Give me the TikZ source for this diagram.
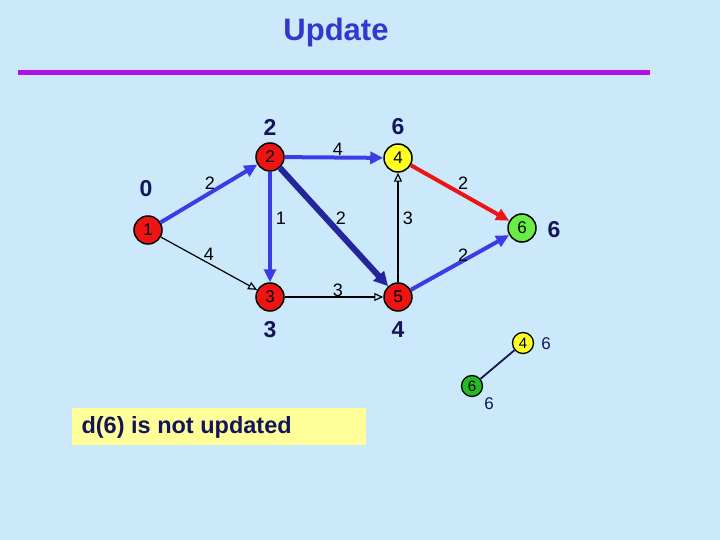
\documentclass[tikz,border=0pt]{standalone}
\usepackage{fontspec}
\setmainfont{Liberation Sans}
\usetikzlibrary{arrows.meta}
\definecolor{bg}{HTML}{CCE9FB}
\definecolor{titleblue}{HTML}{3535D0}
\definecolor{rulepurple}{HTML}{B010E8}
\definecolor{navy}{HTML}{14145A}
\definecolor{eblue}{HTML}{3C3CE6}
\definecolor{edark}{HTML}{24249C}
\definecolor{nred}{HTML}{EE1414}
\definecolor{nyellow}{HTML}{FFFF22}
\definecolor{ngreen}{HTML}{66EE44}
\definecolor{sgreen}{HTML}{22BB22}
\definecolor{boxyellow}{HTML}{FFFF99}
\begin{document}
\begin{tikzpicture}[x=1pt,y=-1pt,
  vert/.style={circle,draw=black,line width=1.5pt,minimum size=28pt,inner sep=0pt,font=\fontsize{17}{17}\selectfont},
  svert/.style={circle,draw=black,line width=1.3pt,minimum size=21pt,inner sep=0pt,font=\fontsize{15}{15}\selectfont},
  dist/.style={text=navy,font=\fontsize{23}{23}\selectfont\bfseries},
  sdist/.style={text=navy,font=\fontsize{17}{17}\selectfont},
  wt/.style={text=black,font=\fontsize{18}{18}\selectfont},
  bluee/.style={draw=eblue,line width=4pt,-{Triangle[length=13pt,width=12pt]}},
  darke/.style={draw=edark,line width=6pt,-{Triangle[length=14pt,width=14pt]}},
  rede/.style={draw=nred,line width=4pt,-{Triangle[length=13pt,width=12pt]}},
  thine/.style={draw=black,line width=1.2pt,-{Triangle[open,length=9pt,width=8pt]}}]
\fill[bg] (0,0) rectangle (720,540);
\useasboundingbox (0,0) rectangle (720,540);
\node[text=titleblue,font=\fontsize{31}{31}\selectfont\bfseries] (title) at (336,32) {Update};
\fill[rulepurple] (18,70) rectangle (650,75);

\node[vert,fill=nred] (n1) at (148,230) {1};
\node[vert,fill=nred] (n2) at (270,157) {2};
\node[vert,fill=nyellow] (n4) at (398,158) {4};
\node[vert,fill=ngreen] (n6) at (522,228) {6};
\node[vert,fill=nred] (n3) at (270,297) {3};
\node[vert,fill=nred] (n5) at (398,297) {5};

\draw[thine] (n1) -- (n3);
\draw[thine] (n3) -- (n5);
\draw[thine] (n5) -- (n4);
\draw[bluee] (n1) -- (n2);
\draw[bluee] (n2) -- (n4);
\draw[bluee] (n2) -- (n3);
\draw[darke] (n2) -- (n5);
\draw[rede] (n4) -- (n6);
\draw[bluee] (n5) -- (n6);

\node[dist] (d1) at (146,189) {0};
\node[dist] (d2) at (270,127) {2};
\node[dist] (d4) at (398,127) {6};
\node[dist] (d6) at (554,230) {6};
\node[dist] (d3) at (270,330) {3};
\node[dist] (d5) at (398,330) {4};

\node[wt] (w12) at (210,183) {2};
\node[wt] (w24) at (338,149) {4};
\node[wt] (w23) at (281,218) {1};
\node[wt] (w25) at (341,218) {2};
\node[wt] (w54) at (408,218) {3};
\node[wt] (w46) at (463,183) {2};
\node[wt] (w13) at (209,254) {4};
\node[wt] (w56) at (463,255) {2};
\node[wt] (w35) at (338,290) {3};

\node[svert,fill=nyellow] (s4) at (523,343) {4};
\node[svert,fill=sgreen] (s6) at (472,386) {6};
\draw[navy,line width=1.8pt] (s4) -- (s6);
\node[sdist] (ds4) at (546,344) {6};
\node[sdist] (ds6) at (489,404) {6};

\node[fill=boxyellow,minimum width=294pt,minimum height=37pt,inner sep=0pt] (box) at (219,426.5) {};
\node[anchor=west,text=navy,font=\fontsize{23.5}{23.5}\selectfont\bfseries] (msg) at (78,427) {d(6) is not updated};
\end{tikzpicture}
\end{document}
